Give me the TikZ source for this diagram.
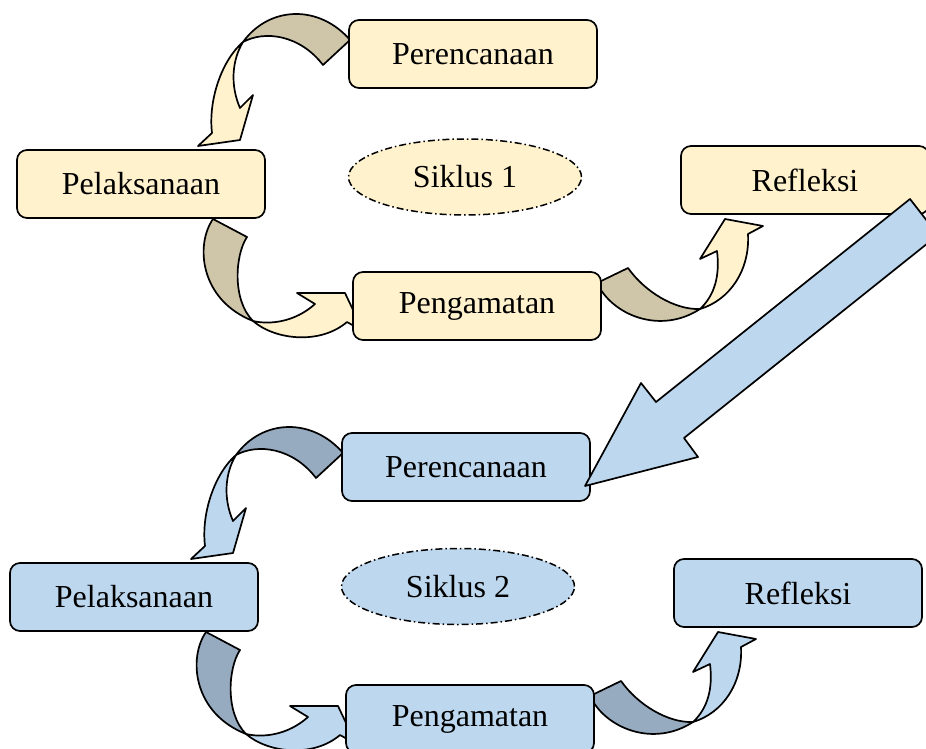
\documentclass[tikz,border=0pt]{standalone}
\usepackage{fontspec}
\setmainfont{Liberation Serif}
\usetikzlibrary{shapes.geometric}
\definecolor{kuning}{HTML}{FFF2CC}
\definecolor{coklat}{HTML}{CFC5A8}
\definecolor{biru}{HTML}{BDD7EE}
\definecolor{birutua}{HTML}{97ABC0}
\tikzset{
  tahap/.style={draw, line width=1.7pt, rounded corners=10pt, minimum width=248pt,
    minimum height=68pt, font=\fontsize{32}{38}\selectfont},
  lingkar/.style={ellipse, draw, line width=1.5pt, dash pattern=on 7pt off 3pt on 1.5pt off 3pt,
    minimum width=233pt, minimum height=76pt, inner sep=0pt, font=\fontsize{32}{38}\selectfont},
  panah/.style={draw, line width=1.7pt, line join=round}
}
\begin{document}
\begin{tikzpicture}[x=1pt,y=-1pt]
   \useasboundingbox (0,0) rectangle (926,749);
   % dua siklus, yang kedua digeser ke bawah
   \foreach \s/\dx/\dy/\ey/\terang/\gelap in {1/0/0/177/kuning/coklat, 2/-7/413/173.5/biru/birutua}{
   \begin{scope}[shift={(\dx,\dy)}]
      % Perencanaan -> Pelaksanaan
      \path[panah, fill=\gelap] (243,42) .. controls (270,5) and (320,5) .. (350,40) -- (323,65)
         .. controls (300,35) and (265,30) .. (243,42) -- cycle;
      \path[panah, fill=\terang] (243,42) .. controls (222,60) and (208,100) .. (212,133) -- (198,146)
         -- (240,140) -- (253,95) -- (240,108) .. controls (230,85) and (232,60) .. (243,42) -- cycle;
      % Pelaksanaan -> Pengamatan
      \path[panah, fill=\gelap] (213,219) -- (247,237) .. controls (235,255) and (232,300) .. (253,321)
         .. controls (200,300) and (195,245) .. (213,219) -- cycle;
      \path[panah, fill=\terang] (253,321) .. controls (275,340) and (320,345) .. (347,322) -- (363,331)
         -- (345,293) -- (297,293) -- (315,304) .. controls (295,322) and (270,325) .. (253,321) -- cycle;
      % Pengamatan -> Refleksi
      \path[panah, fill=\gelap] (597,283) -- (628,268) .. controls (645,292) and (675,310) .. (700,309)
         .. controls (660,335) and (612,315) .. (597,283) -- cycle;
      \path[panah, fill=\terang] (700,309) .. controls (730,300) and (750,270) .. (748,234) -- (763,226)
         -- (725,219) -- (700,259) -- (717,251) .. controls (720,275) and (715,295) .. (700,309) -- cycle;
      \node[tahap, fill=\terang] (ren\s)  at (473,54)  {Perencanaan};
      \node[tahap, fill=\terang] (lak\s)  at (141,184) {Pelaksanaan};
      \node[tahap, fill=\terang] (amat\s) at (477,306) {Pengamatan};
      \node[tahap, fill=\terang] (ref\s)  at (805,180) {Refleksi};
      \node[lingkar, fill=\terang] (sik\s) at (465,\ey) {Siklus \s};
   \end{scope}
   }
   % panah besar Refleksi -> Perencanaan berikutnya
   \path[panah, fill=biru] (910,199) -- (656,402) -- (641,383) -- (585,486) -- (698,457)
      -- (684,438) -- (938,235) -- cycle;
\end{tikzpicture}
\end{document}
